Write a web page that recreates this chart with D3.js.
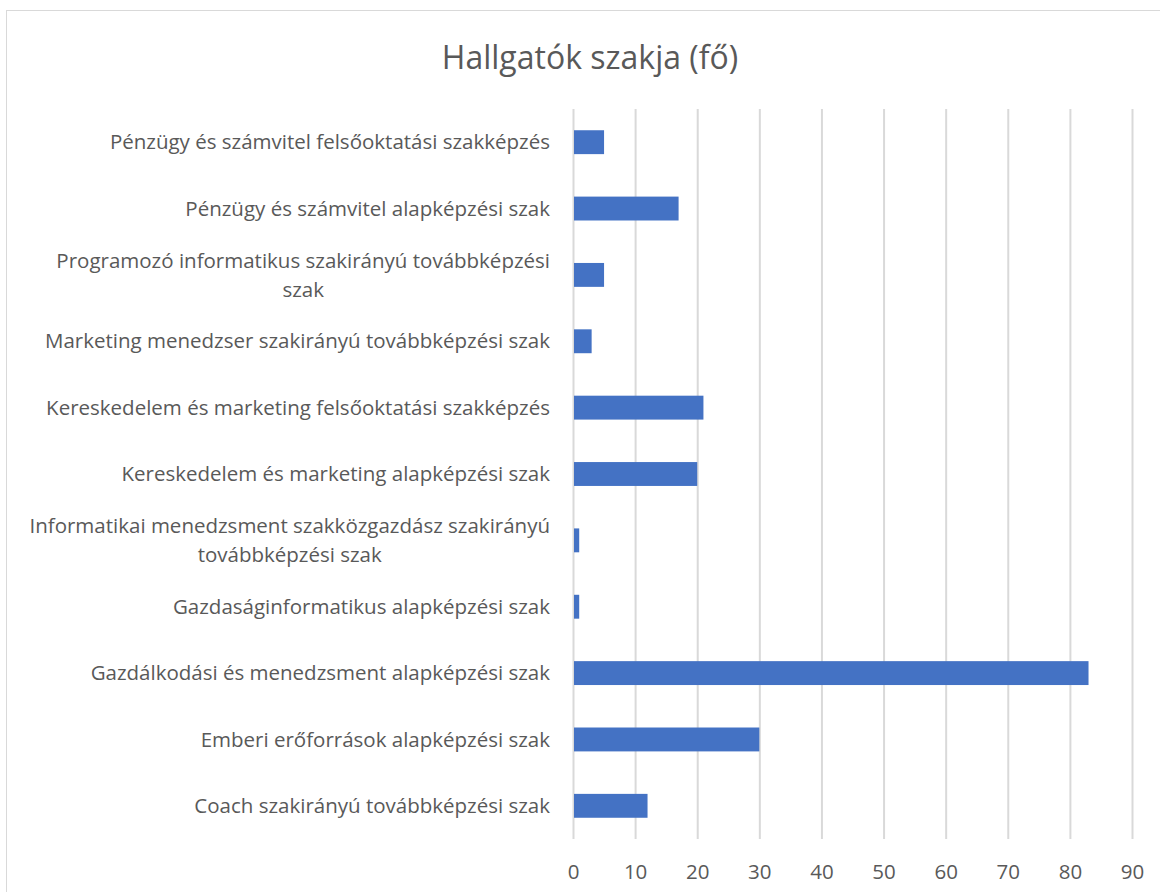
<!DOCTYPE html>
<html>
<head>
<meta charset="utf-8">
<script src="https://cdn.jsdelivr.net/npm/d3@7"></script>
<style>
  body { margin: 0; background: #fff; }
  #chart { width: 1160px; height: 892px; }
  text { font-family: "Open Sans", sans-serif; fill: #595959; }
</style>
</head>
<body>
<div id="chart"></div>
<script>
//Datos
const categorias = [
    ['Pénzügy és számvitel felsőoktatási szakképzés'],
    ['Pénzügy és számvitel alapképzési szak'],
    ['Programozó informatikus szakirányú továbbképzési', 'szak'],
    ['Marketing menedzser szakirányú továbbképzési szak'],
    ['Kereskedelem és marketing felsőoktatási szakképzés'],
    ['Kereskedelem és marketing alapképzési szak'],
    ['Informatikai menedzsment szakközgazdász szakirányú', 'továbbképzési szak'],
    ['Gazdaságinformatikus alapképzési szak'],
    ['Gazdálkodási és menedzsment alapképzési szak'],
    ['Emberi erőforrások alapképzési szak'],
    ['Coach szakirányú továbbképzési szak']
];
const valores = [5, 17, 5, 3, 21, 20, 1, 1, 83, 30, 12];
const ticks = [0, 10, 20, 30, 40, 50, 60, 70, 80, 90];
const titulo = 'Hallgatók szakja (fő)';

const FONT_LABEL = '20.5px';

let margin = {top: 109, right: 28, bottom: 53, left: 573},
    width = 1160 - margin.left - margin.right,
    height = 892 - margin.top - margin.bottom;

let root = d3.select('#chart').append('svg')
    .attr('width', 1160)
    .attr('height', 892);

//Borde
root.append('rect')
    .attr('x', 6.5).attr('y', 10.5)
    .attr('width', 1160).attr('height', 900)
    .attr('fill', 'none')
    .attr('stroke', '#d9d9d9');

root.append('text')
    .attr('x', 590).attr('y', 69)
    .attr('text-anchor', 'middle')
    .style('font-size', '32px')
    .text(titulo);

let svg = root.append('g')
    .attr('transform', 'translate(' + margin.left + ',' + margin.top + ')');

let x = d3.scaleLinear().domain([0, 90]).range([0, width]);
let y = d3.scaleBand()
    .domain(d3.range(categorias.length))
    .range([0, height])
    .paddingInner(0.64)
    .paddingOuter(0.32);

//Rejilla
svg.append('g')
    .attr('transform', 'translate(0,' + height + ')')
    .call(d3.axisBottom(x).tickValues(ticks).tickSize(height).tickPadding(0))
    .call(function(g) {
        g.select('.domain').remove();
        g.selectAll('.tick line')
            .attr('y1', 0).attr('y2', -height)
            .attr('stroke', '#d9d9d9').attr('stroke-width', 2);
        g.selectAll('.tick text')
            .attr('y', 25)
            .style('font-size', FONT_LABEL)
            .style('font-family', '"Open Sans", sans-serif')
            .style('fill', '#595959');
    });

//Barras
svg.append('g')
    .selectAll('rect')
    .data(valores)
    .enter()
    .append('rect')
    .attr('x', x(0) + 1)
    .attr('y', function(d, i) { return y(i); })
    .attr('width', function(d) { return x(d) - x(0) - 1; })
    .attr('height', y.bandwidth())
    .attr('fill', '#4472c4');

//Etiquetas
let labels = svg.append('g')
    .selectAll('g')
    .data(categorias)
    .enter()
    .append('g')
    .attr('transform', function(d, i) { return 'translate(-23,' + (y(i) + y.bandwidth() / 2) + ')'; });

labels.each(function(lines) {
    let g = d3.select(this);
    let n = lines.length;
    let tmp = g.append('text').style('font-size', FONT_LABEL).text(lines[0]);
    let w = tmp.node().getComputedTextLength();
    tmp.remove();
    lines.forEach(function(l, j) {
        g.append('text')
            .attr('x', n > 1 ? -w / 2 : 0)
            .attr('y', (j - (n - 1) / 2) * 29)
            .attr('dy', '0.35em')
            .attr('text-anchor', n > 1 ? 'middle' : 'end')
            .style('font-size', FONT_LABEL)
            .text(l);
    });
});
</script>
</body>
</html>
